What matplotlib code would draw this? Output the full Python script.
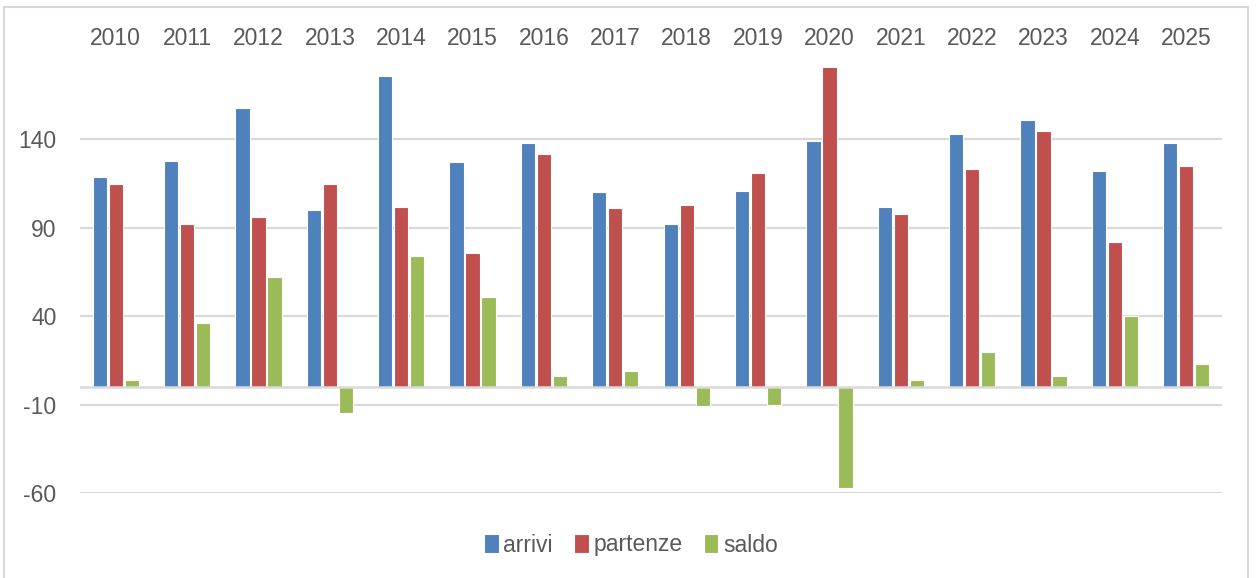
import matplotlib
matplotlib.use("Agg")
import matplotlib.pyplot as plt
from matplotlib.patches import Rectangle
import numpy as np

years = ["2010", "2011", "2012", "2013", "2014", "2015", "2016", "2017",
         "2018", "2019", "2020", "2021", "2022", "2023", "2024", "2025"]
arrivi = [119, 128, 158, 100, 176, 127, 138, 110, 92, 111, 139, 102, 143, 151, 122, 138]
partenze = [115, 92, 96, 115, 102, 76, 132, 101, 103, 121, 196, 98, 123, 145, 82, 125]
saldo = [4, 36, 62, -15, 74, 51, 6, 9, -11, -10, -57, 4, 20, 6, 40, 13]
yticks = [-60, -10, 40, 90, 140]

series_names = ["arrivi", "partenze", "saldo"]
colors = ["#4F81BD", "#C0504D", "#9BBB59"]

FONT = ["Liberation Sans Narrow", "Liberation Sans", "DejaVu Sans"]
plt.rcParams["font.family"] = FONT
TXT = "#595959"
GRID = "#D9D9D9"

W, H = 1256, 578
fig = plt.figure(figsize=(W / 100, H / 100), dpi=100)
ax = fig.add_axes([80 / W, (H - 493) / H, (1222 - 80) / W, (493 - 68) / H])

x = np.arange(len(years))
off = 0.224
bw = 0.2
for i, (vals, name, c) in enumerate(zip([arrivi, partenze, saldo], series_names, colors)):
    ax.bar(x + (i - 1) * off, vals, width=bw, color=c, edgecolor="white",
           linewidth=0.8, label=name, zorder=2)

ax.set_xlim(-0.5, len(years) - 0.5)
ax.set_ylim(-60, 180.4)
ax.set_yticks(yticks)
ax.set_yticklabels([str(v) for v in yticks])
for v in yticks:
    ax.axhline(v, color=GRID, lw=1.6, zorder=1)
ax.axhline(0, color=GRID, lw=1.8, zorder=3)

ax.xaxis.tick_top()
ax.set_xticks(x)
ax.set_xticklabels(years)
ax.tick_params(axis="x", length=0, pad=13, labelsize=16.5, colors=TXT)
ax.tick_params(axis="y", length=0, pad=17, labelsize=16.5, colors=TXT)
for s in ax.spines.values():
    s.set_visible(False)

leg = fig.legend(loc="center", bbox_to_anchor=(631 / W, (H - 545) / H), ncol=3,
                 frameon=False, fontsize=16.5, handlelength=0.62, handleheight=0.62,
                 handletextpad=0.2, columnspacing=0.95, labelcolor=TXT)
for p in leg.get_patches():
    p.set_height(p.get_height() * 1.3)
    p.set_y(p.get_y() - p.get_height() * 0.12)

fig.patches.append(Rectangle((4 / W, -0.01), (1248 - 4) / W, (H - 7) / H + 0.01,
                             transform=fig.transFigure, fill=False,
                             edgecolor=GRID, lw=1.5))

fig.savefig("out.png", dpi=100)
